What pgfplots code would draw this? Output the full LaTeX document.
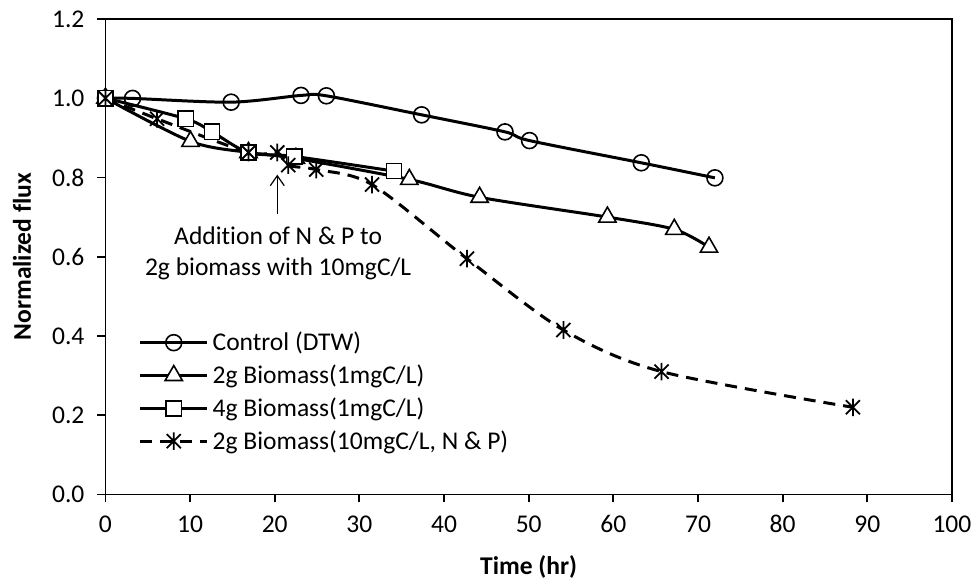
\documentclass[border=0pt]{standalone}
\usepackage{fontspec}
\setmainfont{Carlito}[Ligatures=NoCommon]
\usepackage{pgfplots}
\pgfplotsset{compat=1.18}
\usetikzlibrary{calc,arrows.meta}

% Excel-style star: an X with a vertical stroke
\pgfdeclareplotmark{xstar}{%
  \pgfpathmoveto{\pgfqpoint{-0.8\pgfplotmarksize}{-0.8\pgfplotmarksize}}%
  \pgfpathlineto{\pgfqpoint{0.8\pgfplotmarksize}{0.8\pgfplotmarksize}}%
  \pgfpathmoveto{\pgfqpoint{-0.8\pgfplotmarksize}{0.8\pgfplotmarksize}}%
  \pgfpathlineto{\pgfqpoint{0.8\pgfplotmarksize}{-0.8\pgfplotmarksize}}%
  \pgfpathmoveto{\pgfqpoint{0pt}{-\pgfplotmarksize}}%
  \pgfpathlineto{\pgfqpoint{0pt}{\pgfplotmarksize}}%
  \pgfusepathqstroke}

\begin{document}
\begin{tikzpicture}
\begin{axis}[
  name=ax,
  width=424.3pt,
  height=238.35pt,
  scale only axis,
  xmin=0, xmax=100,
  ymin=0, ymax=1.2,
  xtick={0,10,...,100},
  ytick={0,0.2,...,1.2},
  tick align=outside,
  major tick length=4pt,
  axis line style={line width=0.9pt},
  every tick/.style={line width=0.9pt, black},
  tick pos=left,
  font=\fontsize{12.8}{15.4}\selectfont,
  /pgf/number format/assume math mode=true,
  yticklabel style={xshift=-3pt, /pgf/number format/.cd, fixed, fixed zerofill, precision=1},
  xticklabel style={yshift=-3pt, /pgf/number format/.cd, fixed},
  xlabel={\textbf{Time (hr)}},
  ylabel={\textbf{Normalized flux}},
  xlabel style={at={(axis description cs:0.5,-0.1517)}, anchor=center},
  ylabel style={at={(axis description cs:-0.0986,0.5)}, anchor=center},
  legend cell align=left,
  legend style={draw=none, fill=none, at={(rel axis cs:0.039,0.080)}, anchor=south west,
    row sep=1.6pt, font=\fontsize{12.8}{15.4}\selectfont, inner sep=0pt},
  legend image code/.code={%
    \draw[mark repeat=2, mark phase=2] plot coordinates {(0pt,0pt) (16.75pt,0pt) (33.5pt,0pt)};},
  every axis plot/.append style={line width=1.5pt, black, mark options={solid, fill=white, line width=0.8pt}},
]
\addplot[smooth, tension=0.5, mark=o, mark size=4pt] coordinates {
  (0,1.0) (3.2,0.9995) (14.85,0.990) (23.1,1.007) (26.1,1.006) (37.35,0.958)
  (47.2,0.915) (50.1,0.893) (63.3,0.837) (72.0,0.799)};
\addlegendentry{Control (DTW)}
\addplot[smooth, tension=0.5, mark=triangle*, mark size=5pt] coordinates {
  (0,1.0) (10.05,0.891) (16.9,0.863) (22.5,0.848) (35.9,0.795) (44.2,0.750)
  (59.3,0.700) (67.2,0.669) (71.3,0.624)};
\addlegendentry{2g Biomass(1mgC/L)}
\addplot[smooth, tension=0.5, mark=square*, mark size=3.8pt] coordinates {
  (0,1.0) (9.5,0.948) (12.6,0.915) (16.9,0.863) (22.3,0.853) (34.1,0.816)};
\addlegendentry{4g Biomass(1mgC/L)}
\addplot[smooth, tension=0.5, dash pattern=on 6pt off 4pt, mark=xstar, mark size=4.4pt,
  mark options={solid, line width=0.9pt}] coordinates {
  (0,1.0) (6.1,0.948) (16.9,0.863) (20.3,0.863) (21.6,0.831) (24.9,0.820)
  (31.5,0.782) (42.7,0.595) (54.1,0.415) (65.7,0.310) (88.3,0.220)};
\addlegendentry{2g Biomass(10mgC/L, N \& P)}

\draw[line width=0.6pt, -{Straight Barb[length=5pt,width=7pt]}] (axis cs:20.3,0.707) -- (axis cs:20.3,0.807);
\node[align=center, font=\fontsize{12.8}{16}\selectfont] at (axis cs:20.4,0.6085)
  {Addition of N \& P to\\2g biomass with 10mgC/L};
\end{axis}
\path[use as bounding box] ($(ax.south west)+(-52.85pt,-45.65pt)$) rectangle ($(ax.north east)+(11.85pt,9.5pt)$);
\end{tikzpicture}
\end{document}
